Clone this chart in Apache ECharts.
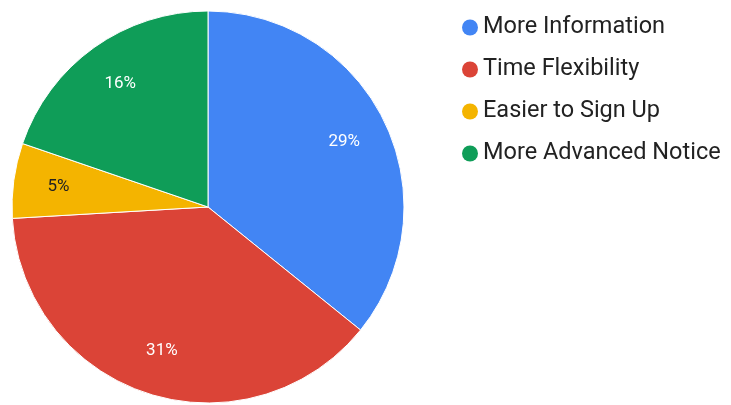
<!DOCTYPE html>
<html>
<head>
<meta charset="utf-8">
<script src="https://cdn.jsdelivr.net/npm/echarts@6/dist/echarts.min.js"></script>
<style>html,body{margin:0;padding:0;background:#fff}#c{width:731px;height:405px}</style>
</head>
<body>
<div id="c"></div>
<script>
const categories = ['More Information', 'Time Flexibility', 'Easier to Sign Up', 'More Advanced Notice'];
const values = [29, 31, 5, 16];
const colors = ['#4285f4', '#db4437', '#f4b400', '#0f9d58'];
const labelColors = ['#ffffff', '#ffffff', '#222222', '#ffffff'];

const data = categories.map((n, i) => ({ name: n, value: values[i], itemStyle: { color: colors[i] } }));
const labelData = categories.map((n, i) => ({ name: n, value: values[i], label: { color: labelColors[i] } }));

const chart = echarts.init(document.getElementById('c'));
chart.setOption({
  animation: false,
  legend: {
    orient: 'vertical',
    left: 457,
    top: 9,
    icon: 'circle',
    itemWidth: 16,
    itemHeight: 16,
    itemGap: 15,
    itemTextGap: 11,
    data: categories,
    itemStyle: { borderWidth: 0 },
    textStyle: { fontFamily: 'Roboto', fontSize: 23.5, color: '#222', lineHeight: 27 }
  },
  series: [
    {
      type: 'pie',
      center: [208, 207],
      radius: [0, 196],
      startAngle: 90,
      clockwise: true,
      data: data,
      label: { show: false },
      labelLine: { show: false },
      itemStyle: { borderColor: '#fff', borderWidth: 1 },
      emphasis: { disabled: true }
    },
    {
      type: 'pie',
      center: [208, 207],
      radius: [100, 196],
      startAngle: 90,
      clockwise: true,
      silent: true,
      data: labelData,
      itemStyle: { color: 'rgba(0,0,0,0)' },
      label: { show: true, position: 'inside', formatter: '{c}%', fontFamily: 'Roboto', fontSize: 17 },
      labelLine: { show: false },
      emphasis: { disabled: true }
    }
  ]
});
</script>
</body>
</html>
